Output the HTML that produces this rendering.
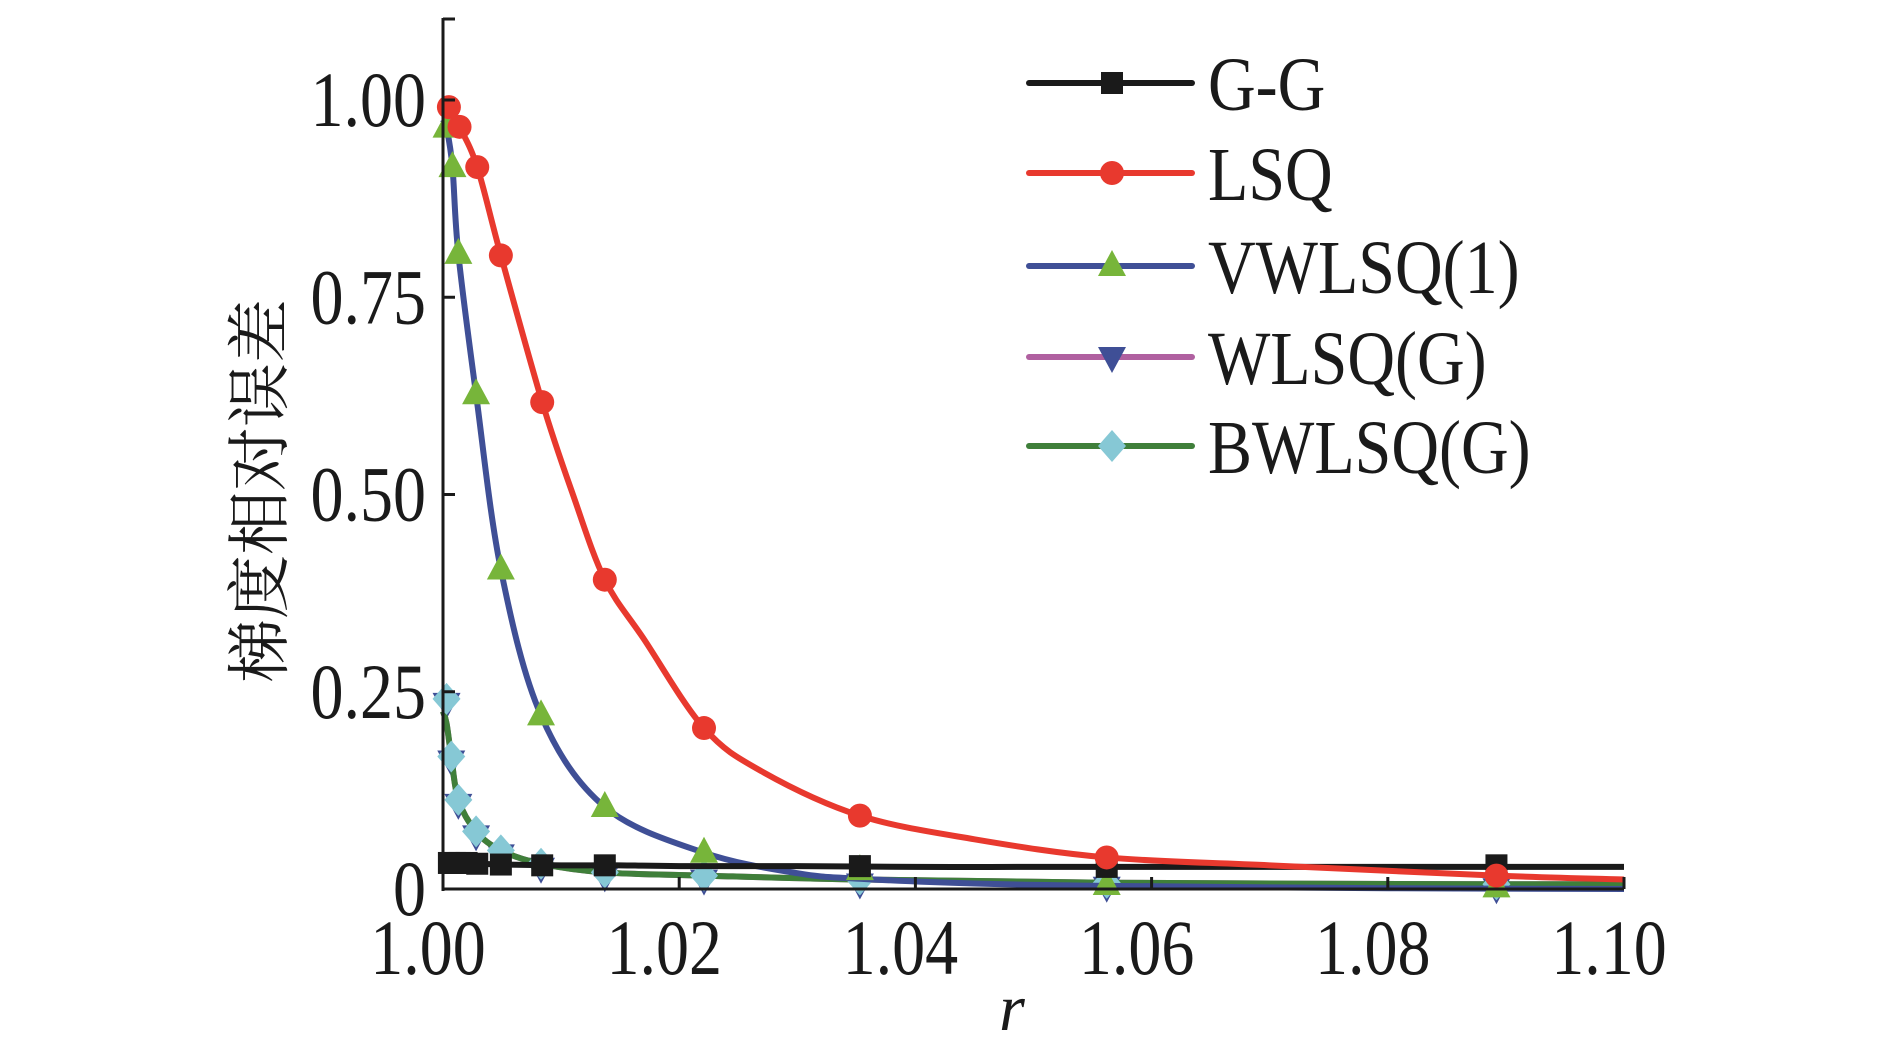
<!DOCTYPE html>
<html><head><meta charset="utf-8"><style>
html,body{margin:0;padding:0;background:#fff}
svg{display:block}
text{font-family:"Liberation Serif","Noto Serif CJK SC",serif;fill:#1a1a1a}
</style></head><body>
<svg id="chart" width="1890" height="1050" viewBox="0 0 1890 1050" xmlns="http://www.w3.org/2000/svg">
<g id="plot"></g>
<g id="axes"></g>
<g id="legend"></g>
</svg>
<script>
const xTicks=[1.00,1.02,1.04,1.06,1.08,1.10];
const xTickLabels=["1.00","1.02","1.04","1.06","1.08","1.10"];
const yTicks=[0,0.25,0.5,0.75,1.0];
const yTickLabels=["0","0.25","0.50","0.75","1.00"];
const seriesNames=["G-G","LSQ","VWLSQ(1)","WLSQ(G)","BWLSQ(G)"];
// line traces
const ggLineX=[1.0,1.002,1.005,1.01,1.015,1.02,1.03,1.04,1.05,1.06,1.07,1.08,1.09,1.10];
const ggLineY=[0.033,0.033,0.031,0.030,0.030,0.029,0.029,0.028,0.028,0.028,0.028,0.028,0.028,0.028];
const lsqLineX=[1.0,1.0005,1.0014,1.0029,1.0049,1.0084,1.011,1.0137,1.017,1.0221,1.027,1.0353,1.045,1.0562,1.07,1.0892,1.10];
const lsqLineY=[1.0,0.991,0.966,0.915,0.803,0.617,0.50,0.392,0.317,0.204,0.149,0.093,0.063,0.040,0.030,0.017,0.012];
const vwLineX=[1.0,1.0003,1.0008,1.0013,1.0028,1.0049,1.0083,1.0137,1.0221,1.03,1.0353,1.045,1.0562,1.08,1.10];
const vwLineY=[0.975,0.965,0.915,0.805,0.627,0.405,0.220,0.104,0.046,0.020,0.013,0.007,0.004,0.001,0.0];
const bwLineX=[1.0,1.0003,1.0007,1.0013,1.0028,1.0049,1.0083,1.0137,1.0221,1.0353,1.0562,1.0892,1.10];
const bwLineY=[0.225,0.210,0.168,0.113,0.073,0.049,0.032,0.021,0.017,0.012,0.008,0.006,0.006];
// markers
const ggMarkX=[1.0005,1.001,1.0014,1.002,1.0029,1.0049,1.0084,1.0137,1.0353,1.0562,1.0892];
const ggMarkY=[0.033,0.033,0.033,0.033,0.032,0.031,0.030,0.030,0.029,0.028,0.030];
const lsqMarkX=[1.0005,1.0014,1.0029,1.0049,1.0084,1.0137,1.0221,1.0353,1.0562,1.0892];
const lsqMarkY=[0.991,0.966,0.915,0.803,0.617,0.392,0.204,0.093,0.040,0.017];
const vwMarkX=[1.0003,1.0008,1.0013,1.0028,1.0049,1.0083,1.0137,1.0221,1.0353,1.0562,1.0892];
const vwMarkY=[0.965,0.915,0.805,0.627,0.405,0.220,0.104,0.046,0.024,0.005,0.002];
const bwMarkX=[1.0003,1.0007,1.0013,1.0028,1.0049,1.0083,1.0137,1.0221,1.0353,1.0562,1.0892];
const bwMarkY=[0.241,0.168,0.113,0.073,0.049,0.032,0.021,0.017,0.012,0.008,0.006];

const NS="http://www.w3.org/2000/svg";
const X0=443,X1=1624,Y0=889,Y1=100;
function xs(v){return X0+(v-1.0)/0.1*(X1-X0);}
function ys(v){return Y0-v*(Y0-Y1);}
function mk(tag,attrs,parent){const e=document.createElementNS(NS,tag);for(const k in attrs)e.setAttribute(k,attrs[k]);parent.appendChild(e);return e;}
const plot=document.getElementById('plot'),axes=document.getElementById('axes'),legend=document.getElementById('legend');

function smoothPath(px,py){
  const p=px.map((x,i)=>[xs(x),ys(py[i])]);
  let d="M"+p[0][0]+","+p[0][1];
  for(let i=0;i<p.length-1;i++){
    const a=p[i-1]||p[i],b=p[i],c=p[i+1],e=p[i+2]||c;
    const c1=[b[0]+(c[0]-a[0])/6,b[1]+(c[1]-a[1])/6],c2=[c[0]-(e[0]-b[0])/6,c[1]-(e[1]-b[1])/6];
    d+=" C"+c1[0]+","+c1[1]+" "+c2[0]+","+c2[1]+" "+c[0]+","+c[1];
  }
  return d;
}
function marker(type,cx,cy,color,parent){
  let el;
  if(type==='square')el=mk('rect',{x:cx-11,y:cy-11,width:22,height:22,fill:color},parent);
  else if(type==='circle')el=mk('circle',{cx:cx,cy:cy,r:12,fill:color},parent);
  else if(type==='tri')el=mk('polygon',{points:`${cx},${cy-16} ${cx+14},${cy+10} ${cx-14},${cy+10}`,fill:color},parent);
  else if(type==='tridown')el=mk('polygon',{points:`${cx},${cy+16} ${cx+14},${cy-10} ${cx-14},${cy-10}`,fill:color},parent);
  else el=mk('polygon',{points:`${cx},${cy-16} ${cx+14},${cy} ${cx},${cy+16} ${cx-14},${cy}`,fill:color},parent);
  return el;
}
const series=[
 {name:'series-gg',lx:ggLineX,ly:ggLineY,mx:ggMarkX,my:ggMarkY,line:'#1a1a1a',m:'#1a1a1a',t:'square'},
 {name:'series-lsq',lx:lsqLineX,ly:lsqLineY,mx:lsqMarkX,my:lsqMarkY,line:'#e8392e',m:'#e8392e',t:'circle'},
 {name:'series-vwlsq1',lx:vwLineX,ly:vwLineY,mx:vwMarkX,my:vwMarkY,line:'#3f4f96',m:'#77b53a',t:'tri'},
 {name:'series-wlsqg',lx:bwLineX,ly:bwLineY,mx:bwMarkX,my:bwMarkY,line:'#b060a0',m:'#3f4f96',t:'tridown'},
 {name:'series-bwlsqg',lx:bwLineX,ly:bwLineY,mx:bwMarkX,my:bwMarkY,line:'#3f7f3a',m:'#86c8d5',t:'diamond'}
];
const order=[3,4,2,0,1];
for(const i of order){
  const s=series[i];
  const g=mk('g',{},plot);
  
  
  const p=mk('path',{d:smoothPath(s.lx,s.ly),fill:'none',stroke:s.line,'stroke-width':6,'stroke-linejoin':'round'},g);
  
  
  s.mx.forEach((x,j)=>{
    const off=s.t==='tridown'?4:0;
    const m=marker(s.t,xs(x),ys(s.my[j])+off,s.m,g);
    
    
  });
}
function condText(t,fs){
  t.setAttribute('font-size',66);
  const w=t.getComputedTextLength();
  t.setAttribute('font-size',fs);
  t.setAttribute('textLength',w);
  t.setAttribute('lengthAdjust','spacingAndGlyphs');
}
// axes
let a=mk('line',{x1:X0,y1:18,x2:X0,y2:Y0+2,stroke:'#1a1a1a','stroke-width':3},axes);

a=mk('line',{x1:X0-1,y1:Y0,x2:X1,y2:Y0,stroke:'#1a1a1a','stroke-width':3},axes);

a=mk('line',{x1:X0,y1:19,x2:X0+12,y2:19,stroke:'#1a1a1a','stroke-width':3},axes);

yTicks.forEach((v,i)=>{
  const t=mk('line',{x1:X0,y1:ys(v),x2:X0+12,y2:ys(v),stroke:'#1a1a1a','stroke-width':3},axes);
  
  const tx=mk('text',{x:426,y:ys(v)+26,'font-size':66,'text-anchor':'end'},axes);
  tx.textContent=yTickLabels[i];
  
  condText(tx,78);
});
xTicks.forEach((v,i)=>{
  const t=mk('line',{x1:xs(v),y1:Y0,x2:xs(v),y2:Y0-12,stroke:'#1a1a1a','stroke-width':3},axes);
  
  const tx=mk('text',{x:xs(v)-15,y:974,'font-size':66,'text-anchor':'middle'},axes);
  tx.textContent=xTickLabels[i];
  
  condText(tx,78);
});
let tt=mk('text',{x:1012,y:1030,'font-size':66,'font-style':'italic','text-anchor':'middle'},axes);
tt.textContent='r';
tt=mk('text',{x:0,y:0,'font-size':64,'text-anchor':'middle',transform:'translate(282,491) rotate(-90)',style:'font-family:"Noto Serif CJK SC","Noto Sans CJK SC",serif'},axes);
tt.textContent='梯度相对误差';
// legend
const rowsY=[83,173,266,357,446];
const legMarkers=[['square','#1a1a1a','#1a1a1a'],['circle','#e8392e','#e8392e'],['tri','#3f4f96','#77b53a'],['tridown','#b060a0','#3f4f96'],['diamond','#3f7f3a','#86c8d5']];
seriesNames.forEach((n,i)=>{
  const g=mk('g',{},legend);
  
  
  const y=rowsY[i];
  mk('line',{x1:1029,y1:y,x2:1192,y2:y,stroke:legMarkers[i][1],'stroke-width':6,'stroke-linecap':'round'},g);
  marker(legMarkers[i][0],1112,y,legMarkers[i][2],g);
  const t=mk('text',{x:1208,y:y+27,'font-size':66},g);
  t.textContent=n;
  condText(t,76);
});
</script>
</body></html>
